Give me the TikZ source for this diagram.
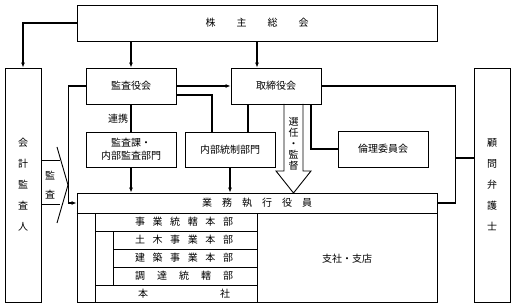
\documentclass[tikz,border=0pt]{standalone}
\usepackage{fontspec}
\setmainfont{Noto Sans CJK JP}
\usetikzlibrary{arrows.meta}
\newcommand{\jsp}[1]{\hspace{#1pt}}
\tikzset{
  box/.style={draw, line width=0.8pt, minimum width=90pt, minimum height=36pt, inner sep=0pt, align=center},
  conn/.style={line width=1.1pt},
  arr/.style={conn, -{Latex[length=5pt,width=4pt]}},
  hollow/.style={line width=0.9pt, line join=miter},
  frame/.style={line width=0.8pt},
  vtext/.style={align=center, font=\fontsize{10}{21}\selectfont},
}
\begin{document}
\begin{tikzpicture}[x=1pt, y=-1pt, font=\fontsize{10}{13}\selectfont]
  \useasboundingbox (0,0) rectangle (514,307);
  % Boxes
  \node[box, minimum width=360pt] (soukai) at (257,23) {株\jsp{21}主\jsp{21}総\jsp{21}会};
  \node[box, vtext, minimum width=36pt, minimum height=234pt] (kansanin) at (23,185) {会\\計\\監\\査\\人};
  \node[box, vtext, minimum width=36pt, minimum height=234pt] (bengoshi) at (492,185) {顧\\問\\弁\\護\\士};
  \node[box] (kansayaku) at (131,86) {監査役会};
  \node[box] (torishimari) at (276,86) {取締役会};
  \node[box, minimum height=35pt] (naibukansa) at (131,149.5) {監査課・\\内部監査部門};
  \node[box, minimum height=35pt] (naibutousei) at (230,149.5) {内部統制部門};
  \node[box] (rinri) at (383,149) {倫理委員会};
  \node[box, minimum width=360pt, minimum height=109pt] (shikkou) at (257,247.5) {};
  \node (shikkouhdr) at (257,203) {業\jsp{10}務\jsp{10}執\jsp{10}行\jsp{10}役\jsp{10}員};
  % Connectors
  \draw[arr] (soukai.west) -| (kansanin.north);
  \draw[arr] (soukai.south -| kansayaku.north) -- (kansayaku.north);
  \draw[arr] (soukai.south) -- (soukai.south |- torishimari.north);
  \draw[arr] (kansayaku.east) -- (torishimari.west);
  \draw[conn] ([yshift=-9pt]kansayaku.east) -| ([xshift=-18pt]naibutousei.north);
  \draw[conn] ([xshift=18pt]naibutousei.north) -- ([xshift=18pt]naibutousei.north |- torishimari.south);
  \draw[conn] (kansayaku.south) -- (naibukansa.north);
  \node (renkei) at (118,119) {連携};
  \draw[arr] (naibukansa.south) -- (naibukansa.south |- shikkou.north);
  \draw[arr] (naibutousei.south) -- (naibutousei.south |- shikkou.north);
  \draw[arr] (kansayaku.west) -- ++(-17pt,0pt) |- (shikkouhdr -| shikkou.west);
  \draw[conn] ([xshift=35pt]torishimari.south) |- (rinri.west);
  \draw[conn] (torishimari.east) -- ++(134pt,0pt) |- (shikkouhdr -| shikkou.east);
  \coordinate (rjct) at (455,158);
  \draw[conn] (rjct) -- (rjct -| bengoshi.west);
  % Appointment / supervision arrow
  \draw[hollow] (284,104) -- (284,171) -- (276,171) -- (293.5,193) -- (311,171) -- (303,171) -- (303,104);
  \node[align=center, font=\fontsize{10}{11}\selectfont] (senin) at (293.5,143.5) {選\\任\\・\\監\\督};
  % Audit arrow
  \draw[hollow] (kansanin.east |- 0,160) -- (60,160);
  \draw[hollow] (kansanin.east |- 0,204) -- (60,204);
  \draw[hollow] (57,147) -- (68,185) -- (57,223);
  \node[align=center, font=\fontsize{10}{19}\selectfont] (kansa) at (50,185.5) {監\\査};
  % Executive officers inner layout
  \draw[frame] (shikkou.west |- 0,213) -- (shikkou.east |- 0,213);
  \draw[frame] (95,213) rectangle (257,302);
  \draw[frame] (95,231) -- (257,231);
  \draw[frame] (113,231) rectangle (257,285);
  \draw[frame] (95,285) -- (113,285);
  \foreach \y in {249,267}
    \draw[frame] (113,\y) -- (257,\y);
  \node (jigyou) at (184,222) {事\jsp{7.6}業\jsp{7.6}統\jsp{7.6}轄\jsp{7.6}本\jsp{7.6}部};
  \node (doboku) at (184,240) {土\jsp{7.6}木\jsp{7.6}事\jsp{7.6}業\jsp{7.6}本\jsp{7.6}部};
  \node (kenchiku) at (184,258) {建\jsp{7.6}築\jsp{7.6}事\jsp{7.6}業\jsp{7.6}本\jsp{7.6}部};
  \node (choutatsu) at (184,276) {調\jsp{12}達\jsp{12}統\jsp{12}轄\jsp{12}部};
  \node (honsha) at (184,293.5) {本\jsp{72}社};
  \node (shisha) at (347,259) {支社・支店};
\end{tikzpicture}
\end{document}
